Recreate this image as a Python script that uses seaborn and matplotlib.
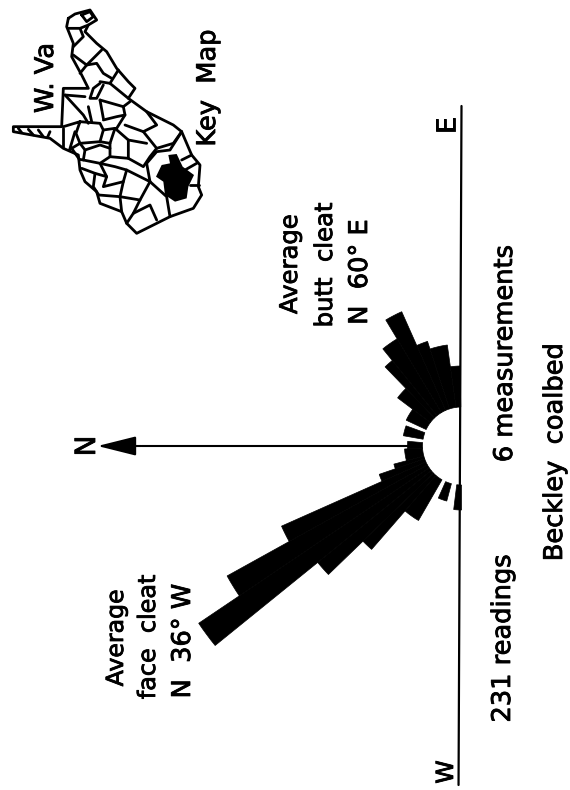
import numpy as np
import pandas as pd
import matplotlib
matplotlib.use('Agg')
import matplotlib.pyplot as plt
import matplotlib.patheffects as pe
import seaborn as sns

# rose sectors: azimuth from north (degrees, east positive) and petal length
sector_from = [-90, -75, -60, -49, -44, -39, -34, -29, -24, -19, -15, -3, 10, 25, 37, 46, 51, 59, 66, 72, 82]
sector_to = [-83, -66, -49, -44, -39, -34, -29, -24, -19, -15, -3, 5, 20, 37, 46, 51, 59, 66, 72, 82, 89]
sector_len = [64, 57, 86, 137, 185, 317, 268, 197, 87, 70, 57, 54, 59, 61, 80, 110, 125, 147, 110, 102, 80]
hole_radius = 39

# key map
state_outline = [(205, 55), (225, 42), (270, 30), (290, 60), (265, 75), (255, 95), (290, 130), (320, 155),
                 (350, 205), (385, 245), (405, 265), (385, 295), (440, 335), (520, 375), (545, 395), (575, 465),
                 (600, 495), (595, 560), (605, 585), (580, 625), (510, 650), (410, 700), (380, 670), (365, 635),
                 (300, 610), (290, 575), (255, 545), (240, 510), (235, 465), (190, 445), (150, 415), (40, 395),
                 (40, 380), (185, 380), (190, 265), (265, 265), (245, 225), (215, 170), (220, 130), (200, 80),
                 (205, 55)]
county_lines = [
    [(245, 45), (270, 35), (280, 50), (260, 65), (245, 45)],
    [(205, 85), (240, 85), (265, 75)],
    [(240, 85), (250, 110), (220, 140)],
    [(220, 165), (260, 195), (305, 150)],
    [(260, 195), (240, 220)],
    [(260, 195), (290, 190), (310, 220), (335, 235)],
    [(355, 210), (330, 250), (385, 295)],
    [(300, 245), (330, 250)],
    [(300, 250), (280, 265), (270, 295), (290, 295), (310, 255)],
    [(255, 290), (195, 285)],
    [(195, 285), (250, 345), (265, 370)],
    [(265, 320), (275, 365)],
    [(300, 300), (370, 320), (390, 305)],
    [(300, 300), (310, 355)],
    [(370, 320), (375, 345), (350, 385)],
    [(310, 360), (350, 350), (375, 345)],
    [(345, 385), (385, 420), (440, 430)],
    [(440, 335), (470, 375), (430, 395), (375, 375)],
    [(430, 395), (470, 445), (520, 430), (545, 395)],
    [(190, 380), (240, 365), (300, 370), (310, 390), (300, 425), (240, 430), (228, 400), (240, 365)],
    [(300, 425), (330, 430), (345, 385)],
    [(310, 390), (345, 385)],
    [(150, 395), (142, 413)],
    [(115, 390), (130, 410)],
    [(85, 388), (100, 405)],
    [(55, 385), (65, 398)],
    [(190, 385), (190, 442)],
    [(225, 395), (208, 452)],
    [(240, 430), (215, 445), (238, 478), (250, 480)],
    [(240, 430), (255, 450), (250, 480), (300, 490), (330, 470), (330, 430)],
    [(255, 450), (300, 435), (330, 445)],
    [(330, 470), (385, 475), (385, 420)],
    [(300, 490), (320, 530), (285, 520), (245, 505)],
    [(285, 520), (280, 560), (296, 585)],
    [(320, 530), (310, 560), (370, 545), (380, 510), (345, 500), (300, 490)],
    [(370, 545), (360, 590), (296, 585)],
    [(360, 590), (365, 635)],
    [(360, 590), (420, 600), (450, 545), (380, 510)],
    [(385, 475), (430, 500), (450, 470), (470, 445)],
    [(450, 545), (500, 590), (510, 650)],
    [(420, 600), (400, 640), (380, 670)],
    [(400, 640), (450, 615), (470, 660)],
    [(450, 545), (440, 490), (470, 455), (510, 450), (545, 395)],
    [(545, 480), (575, 465)],
    [(555, 510), (590, 490)],
    [(570, 555), (597, 555)],
]
county_fill = [(468, 530), (485, 495), (510, 490), (505, 465), (530, 462), (548, 500), (582, 525),
               (565, 560), (560, 595), (525, 605), (495, 585), (490, 545)]

W, H = 570, 790
CENTER_X, CENTER_Y = 461.5, 446
RMAX = 375

sns.set_theme(style='white')
plt.rcParams['font.family'] = ['DejaVu Sans']

fig = plt.figure(figsize=(W / 100, H / 100), dpi=100, facecolor='white')

# text layer in picture pixels
base = fig.add_axes([0, 0, 1, 1])
base.set_xlim(0, W)
base.set_ylim(H, 0)
base.axis('off')

labels = [
    ('W. Va', 53, 78, 18.5), ('Key  Map', 215, 88, 18.5),
    ('Average', 123, 638, 17), ('face  cleat', 155, 637, 17.2), ('N  36° W', 190, 641, 18.5),
    ('Average', 297, 264, 17.5), ('butt  cleat', 332, 265, 17.5), ('N  60° E', 367, 272, 18.5),
    ('6 measurements', 512, 353, 18.5), ('231 readings', 510, 638, 18.5), ('Beckley  coalbed', 562, 452, 18.5),
    ('E', 455, 125, 19), ('W', 453, 772, 17), ('N', 95, 446, 20),
]
for txt, x, y, size in labels:
    base.text(x, y, txt, rotation=90, rotation_mode='anchor', ha='center', va='baseline',
              fontsize=size, color='black',
              path_effects=[pe.withStroke(linewidth=0.6, foreground='black')])

# rose diagram: north to the left, east up, like the turned page
left = (CENTER_X - RMAX) / W
bottom = 1 - (CENTER_Y + RMAX) / H
ax = fig.add_axes([left, bottom, 2 * RMAX / W, 2 * RMAX / H], projection='polar')
ax.patch.set_alpha(0)
ax.set_theta_zero_location('W')
ax.set_theta_direction(-1)
ax.set_rlim(0, RMAX)
ax.axis('off')

start = np.radians(sector_from)
stop = np.radians(sector_to)
ax.bar((start + stop) / 2, np.array(sector_len) - hole_radius, width=stop - start,
       bottom=hole_radius, color='black', edgecolor='black', linewidth=0.5)

# E-W base line and north arrow
ax.plot(np.radians([90, -89.5]), [340, 339], color='black', lw=1.6, clip_on=False)
ax.plot(np.radians([0, 0]), [hole_radius + 12, 320], color='black', lw=1.5)
ax.annotate('', xy=(0, 364), xytext=(0, 320), annotation_clip=False,
            arrowprops=dict(arrowstyle='-|>,head_length=2.4,head_width=0.6', mutation_scale=10,
                            color='black', lw=1.5, shrinkA=0, shrinkB=0))

# key map
inset = fig.add_axes([0, 1 - 250 / H, 240 / W, 250 / H])
inset.patch.set_alpha(0)
rows = []
for seg, pts in enumerate([state_outline] + county_lines):
    for x, y in pts:
        rows.append({'seg': seg, 'x': x, 'y': y})
map_df = pd.DataFrame(rows)
sns.lineplot(data=map_df, x='x', y='y', units='seg', estimator=None, sort=False,
             color='black', lw=2.0, legend=False, solid_joinstyle='round', ax=inset)
inset.fill(*zip(*county_fill), color='black', lw=0)
inset.set_xlim(0, 720)
inset.set_ylim(750, 0)
inset.axis('off')

fig.savefig('out.png', dpi=100)
plt.close(fig)
